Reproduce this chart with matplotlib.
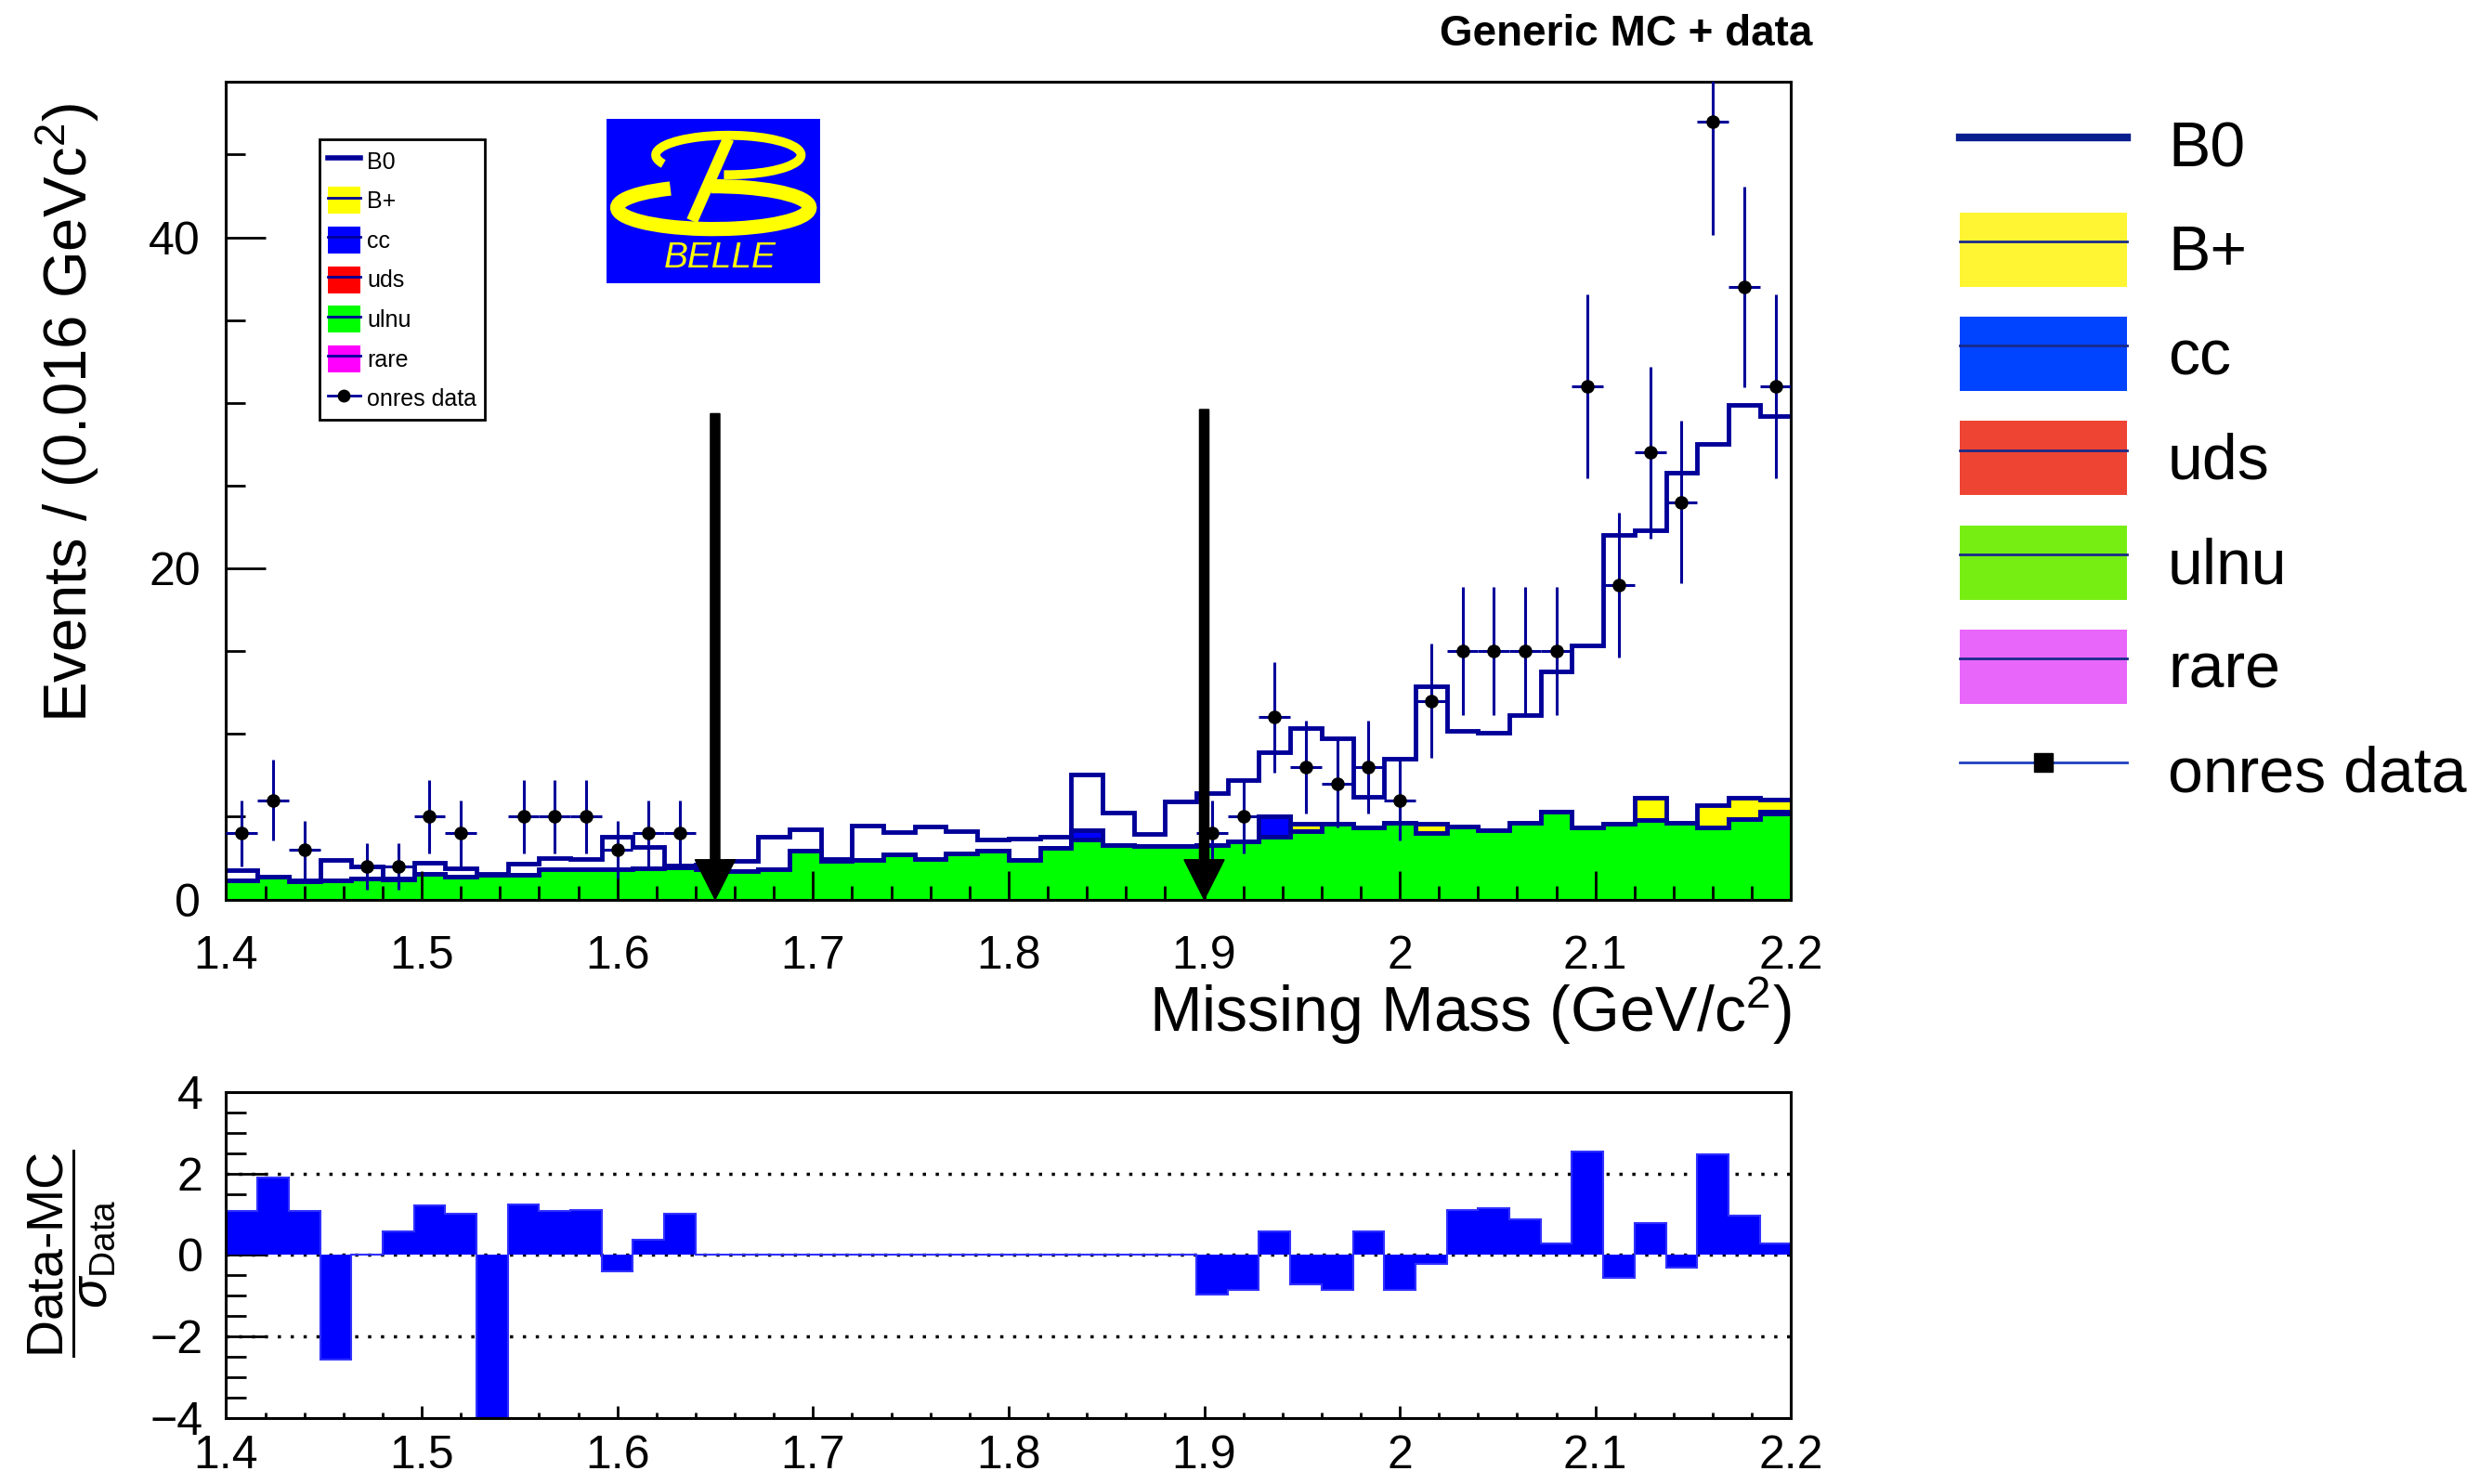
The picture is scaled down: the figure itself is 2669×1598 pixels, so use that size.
import numpy as np
import matplotlib
matplotlib.use('Agg')
import matplotlib.pyplot as plt
from matplotlib.patches import Patch, Arc
from matplotlib.lines import Line2D
from matplotlib.ticker import MultipleLocator, FuncFormatter

plt.rcParams['font.family'] = ['Liberation Sans', 'DejaVu Sans']
plt.rcParams['mathtext.fontset'] = 'custom'
plt.rcParams['mathtext.rm'] = 'Liberation Sans'
plt.rcParams['mathtext.it'] = 'Liberation Sans:italic'
plt.rcParams['mathtext.bf'] = 'Liberation Sans:bold'
plt.rcParams['axes.linewidth'] = 2.2

# 50 bins of 0.016 GeV between 1.4 and 2.2
edges = np.linspace(1.4, 2.2, 51)
centers = 0.5 * (edges[1:] + edges[:-1])

ulnu = np.array([1.14, 1.35, 1.10, 1.14, 1.29, 1.20, 1.53, 1.35, 1.50, 1.47,
                 1.81, 1.81, 1.85, 1.91, 1.95, 1.80, 1.70, 1.81, 2.93, 2.35,
                 2.37, 2.71, 2.47, 2.78, 2.97, 2.37, 3.12, 3.60, 3.27, 3.21,
                 3.21, 3.27, 3.50, 3.80, 4.12, 4.60, 4.34, 4.62, 4.02, 4.39,
                 4.20, 4.63, 5.32, 4.36, 4.57, 4.78, 4.63, 4.36, 4.84, 5.20])
rare = np.zeros(50)
rare[49] = 0.13
uds = np.zeros(50)
cc = np.zeros(50)
cc[27] = 0.60
cc[33] = 1.20
bplus = np.zeros(50)
bplus[[34, 38, 45, 47, 48, 49]] = [0.46, 0.56, 1.39, 1.32, 1.28, 0.69]
b0 = np.array([0.64, 0.05, 0.04, 1.23, 0.71, 0.05, 0.69, 0.56, 0.03, 0.68,
               0.69, 0.63, 1.93, 1.29, 0.09, 0.30, 0.62, 1.97, 1.31, 0.07,
               2.10, 1.35, 1.96, 1.32, 0.66, 1.30, 0.66, 3.35, 1.96, 0.75,
               2.72, 3.13, 3.70, 3.88, 5.77, 5.15, 1.86, 3.88, 8.32, 5.81,
               5.90, 6.52, 8.48, 10.99, 17.43, 16.13, 21.17, 21.82, 23.78, 23.18])

onres = np.array([4, 6, 3, 0, 2, 2, 5, 4, 0, 5,
                  5, 5, 3, 4, 4, 0, 0, 0, 0, 0,
                  0, 0, 0, 0, 0, 0, 0, 0, 0, 0,
                  0, 4, 5, 11, 8, 7, 8, 6, 12, 15,
                  15, 15, 15, 31, 19, 27, 24, 47, 37, 31])

pull = np.array([1.09, 1.90, 1.09, -2.56, 0.02, 0.58, 1.22, 1.02, -4.30, 1.24,
                 1.09, 1.11, -0.41, 0.37, 1.02, 0, 0, 0, 0, 0,
                 0, 0, 0, 0, 0, 0, 0, 0, 0, 0,
                 0, -0.97, -0.85, 0.57, -0.71, -0.85, 0.59, -0.85, -0.21, 1.10,
                 1.14, 0.87, 0.28, 2.55, -0.57, 0.78, -0.32, 2.47, 0.97, 0.28])

cut_x = [1.65, 1.90]
cut_top = [29.35, 29.6]

names = ['B0', 'B+', 'cc', 'uds', 'ulnu', 'rare']
NAVY = '#000099'

fig = plt.figure(figsize=(26.69, 15.98), dpi=100)
ax = fig.add_axes([0.0912, 0.3939, 0.6313, 0.5510])
axr = fig.add_axes([0.0912, 0.0446, 0.6313, 0.2194])

# stack: ulnu at the bottom, B0 on top
layers = [ulnu, rare, uds, cc, bplus, b0]
fills = ['#00ff00', '#ff00ff', '#ff0000', '#0000ff', '#ffff00', 'white']
cum = np.cumsum(layers, axis=0)
for level, col in zip(cum[::-1], fills[::-1]):
    ax.stairs(level, edges, fill=True, facecolor=col, edgecolor='none', lw=0, baseline=0, zorder=1)
    ax.stairs(level, edges, color=NAVY, lw=3.5, baseline=None, zorder=1)

has = onres > 0
ax.errorbar(centers[has], onres[has], xerr=0.008, yerr=np.sqrt(onres[has]),
            fmt='o', color='black', ecolor=NAVY, elinewidth=2.2, markersize=9.5,
            capsize=0, zorder=5)

for xa, ya in zip(cut_x, cut_top):
    ax.arrow(xa, ya, 0, -ya, width=0.0048, head_width=0.0205, head_length=2.4,
             length_includes_head=True, color='black', zorder=6)

fmt = FuncFormatter(lambda v, p: '%g' % round(v, 3))
ax.set_xlim(1.4, 2.2)
ax.set_ylim(0, 49.4)
ax.xaxis.set_major_locator(MultipleLocator(0.1))
ax.xaxis.set_minor_locator(MultipleLocator(0.02))
ax.yaxis.set_major_locator(MultipleLocator(20))
ax.yaxis.set_minor_locator(MultipleLocator(5))
ax.xaxis.set_major_formatter(fmt)
ax.tick_params(axis='x', which='major', direction='in', length=22, width=2, labelsize=36, pad=28)
ax.tick_params(axis='x', which='minor', direction='in', length=11, width=2)
ax.tick_params(axis='y', which='major', direction='in', length=31, width=2, labelsize=36, pad=20)
ax.tick_params(axis='y', which='minor', direction='in', length=15, width=2)

# pull panel
for yl in [2, 0, -2]:
    axr.axhline(yl, color='black', ls=(0, (1, 3)), lw=2.5, zorder=1)
axr.stairs(pull, edges, fill=True, facecolor='#0000ff', edgecolor='none', baseline=0, zorder=2)
axr.stairs(pull, edges, color='#3030ff', lw=1.5, baseline=None, zorder=2)
axr.set_xlim(1.4, 2.2)
axr.set_ylim(-4, 4)
axr.xaxis.set_major_locator(MultipleLocator(0.1))
axr.xaxis.set_minor_locator(MultipleLocator(0.02))
axr.yaxis.set_major_locator(MultipleLocator(2))
axr.yaxis.set_minor_locator(MultipleLocator(0.5))
axr.xaxis.set_major_formatter(fmt)
axr.tick_params(axis='x', which='major', direction='in', length=9.5, width=2, labelsize=36, pad=13)
axr.tick_params(axis='x', which='minor', direction='in', length=4.5, width=2)
axr.tick_params(axis='y', which='major', direction='in', length=32, width=2, labelsize=36, pad=18)
axr.tick_params(axis='y', which='minor', direction='in', length=16, width=2)

# labels
fig.text(0.7313, 0.9768, 'Generic MC + data', ha='right', va='center', fontsize=33,
         weight='bold', family=['Liberation Sans Narrow', 'Liberation Sans'])
fig.text(0.027, 0.9308, 'Events / (0.016 GeVc$^{2}$)', rotation=90, ha='center', va='top', fontsize=47)
fig.text(0.7226, 0.3185, 'Missing Mass (GeV/c$^{2}$)', ha='right', va='center', fontsize=49)
fig.text(0.0288, 0.1552, r'$\dfrac{\text{Data-MC}}{\sigma_{\text{Data}}}$', rotation=90,
         ha='center', va='center', fontsize=40)

# small legend inside the plot
inner = [Line2D([], [], color=NAVY, lw=4)]
inner_cols = ['#ffff00', '#0000ff', '#ff0000', '#00ff00', '#ff00ff']
for col in inner_cols:
    inner.append((Patch(facecolor=col, edgecolor='none'), Line2D([], [], color=NAVY, lw=2)))
inner.append(Line2D([], [], color=NAVY, lw=2, marker='o', markersize=9,
                    markerfacecolor='black', markeredgecolor='black'))
leg = ax.legend(inner, names + ['onres data'], loc='upper left',
                bbox_to_anchor=(0.1289, 0.9061), bbox_transform=fig.transFigure,
                fontsize=18, frameon=True, fancybox=False, edgecolor='black', framealpha=1,
                handlelength=1.4, handleheight=1.4, labelspacing=0.55, borderpad=0.35,
                handletextpad=0.3, borderaxespad=0)
leg.get_frame().set_linewidth(2)

# big legend at the right
outer = [Line2D([], [], color='#0a1f8f', lw=6)]
outer_cols = ['#fff533', '#0044ff', '#ee4433', '#76ee12', '#e966fa']
for col in outer_cols:
    outer.append((Patch(facecolor=col, edgecolor='none'), Line2D([], [], color='#1a2a8a', lw=2)))
outer.append(Line2D([], [], color='#1f3fbf', lw=2, marker='s', markersize=14,
                    markerfacecolor='black', markeredgecolor='black'))
fig.legend(outer, names + ['onres data'], loc='upper left', bbox_to_anchor=(0.7906, 0.927),
           frameon=False, fontsize=49, handlelength=2.65, handleheight=1.43,
           labelspacing=0.475, handletextpad=0.64, borderpad=0, borderaxespad=0)

# Belle logo
logo = fig.add_axes([0.2447, 0.8091, 0.0862, 0.1108])
logo.set_facecolor('#0000ff')
logo.set_xticks([])
logo.set_yticks([])
for s in logo.spines.values():
    s.set_visible(False)
logo.set_xlim(0, 1)
logo.set_ylim(0, 1)
logo.add_patch(Arc((0.57, 0.78), 0.68, 0.24, theta1=-100, theta2=190, color='yellow', lw=7))
logo.add_patch(Arc((0.50, 0.46), 0.90, 0.26, theta1=150, theta2=455, color='yellow', lw=11))
logo.plot([0.40, 0.57], [0.38, 0.88], color='yellow', lw=9, solid_capstyle='butt')
logo.text(0.53, 0.15, 'BELLE', style='italic', color='yellow', fontsize=28, ha='center', va='center')

fig.savefig('out.png', dpi=100)
